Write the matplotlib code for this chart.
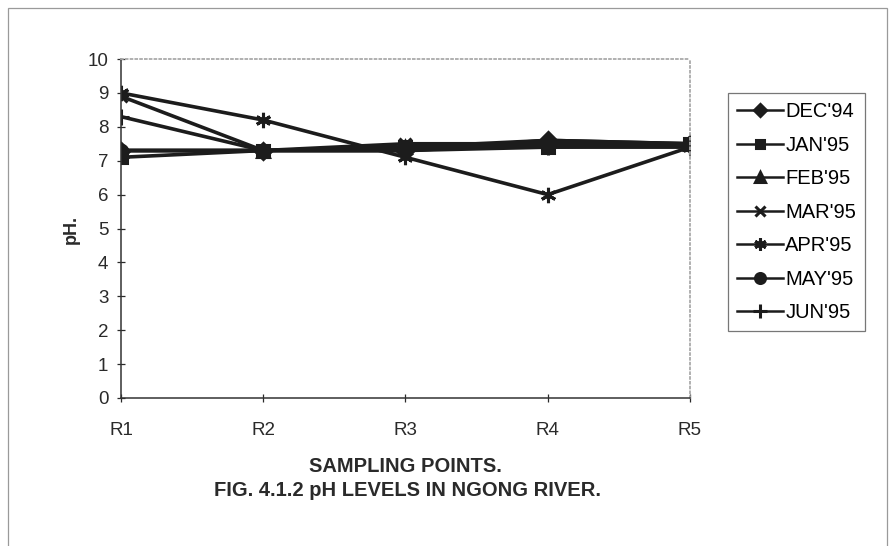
import matplotlib
matplotlib.use("Agg")
import matplotlib.pyplot as plt
from matplotlib.patches import Rectangle

plt.rcParams['font.family'] = ['Liberation Sans', 'DejaVu Sans']

points = ["R1", "R2", "R3", "R4", "R5"]
months = ["DEC'94", "JAN'95", "FEB'95", "MAR'95", "APR'95", "MAY'95", "JUN'95"]
dec94 = [7.3, 7.3, 7.3, 7.6, 7.5]
jan95 = [7.1, 7.3, 7.4, 7.4, 7.5]
feb95 = [7.3, 7.3, 7.4, 7.6, 7.5]
mar95 = [8.9, 7.3, 7.5, 7.5, 7.5]
apr95 = [9.0, 8.2, 7.1, 6.0, 7.4]
may95 = [7.3, 7.3, 7.3, 7.5, 7.5]
jun95 = [8.3, 7.3, 7.3, 7.4, 7.4]
series = [dec94, jan95, feb95, mar95, apr95, may95, jun95]

markers = ['D', 's', '^', 'x', (6, 2, 0), 'o', '+']
sizes = [8, 8, 9, 9, 11, 9, 12]
ink = '#1c1c1c'
narrow = ['Liberation Sans Narrow', 'Liberation Sans', 'DejaVu Sans']

fig = plt.figure(figsize=(8.9, 5.46), dpi=100)
# outer chart border
fig.patches.append(Rectangle((8/890, -0.01), 879/890, 1.01 - 8/546, transform=fig.transFigure,
                             fill=False, edgecolor='#9a9a9a', linewidth=0.9))

ax = fig.add_axes([121/890, 148/546, 569/890, 339/546])
x = list(range(len(points)))
for vals, lab, m, ms in zip(series, months, markers, sizes):
    ax.plot(x, vals, color=ink, linewidth=2.6, marker=m, markersize=ms,
            markeredgewidth=2.2, markerfacecolor=ink, markeredgecolor=ink, label=lab)

ax.set_xlim(0, 4)
ax.set_ylim(0, 10)
ax.set_xticks(x)
ax.set_xticklabels(points)
ax.set_yticks(range(0, 11))
ax.tick_params(axis='both', direction='inout', length=6, width=0.9, labelsize=13.5, colors='#2a2a2a')
ax.tick_params(axis='x', pad=14)
ax.tick_params(axis='y', pad=6)
for s in ['left', 'bottom']:
    ax.spines[s].set_color('#333333')
    ax.spines[s].set_linewidth(1.1)
for s in ['top', 'right']:
    ax.spines[s].set_color('#aaaaaa')
    ax.spines[s].set_linestyle(':')
    ax.spines[s].set_linewidth(1.3)

fig.text(71/890, 1 - 229/546, "pH.", rotation=90, ha='center', va='center',
         fontsize=13, fontweight='bold', color='#2a2a2a', family=narrow)
fig.text(405/890, 1 - 466/546, "SAMPLING POINTS.", ha='center', va='center',
         fontsize=14.5, fontweight='bold', color='#2a2a2a', family=narrow)
fig.text(407/890, 1 - 490/546, "FIG. 4.1.2 pH LEVELS IN NGONG RIVER.", ha='center', va='center',
         fontsize=14.5, fontweight='bold', color='#2a2a2a', family=narrow)

leg = fig.legend(loc='upper left', bbox_to_anchor=(728/890, 1 - 93/546), frameon=True,
                 fancybox=False, edgecolor='#555555', fontsize=14.5, handlelength=2.3,
                 handletextpad=0.1, labelspacing=0.72, borderpad=0.45, borderaxespad=0,
                 markerscale=0.8)
leg.get_frame().set_linewidth(0.9)
for h in leg.get_lines():
    h.set_linewidth(1.8)

fig.savefig("out.png", dpi=100)
